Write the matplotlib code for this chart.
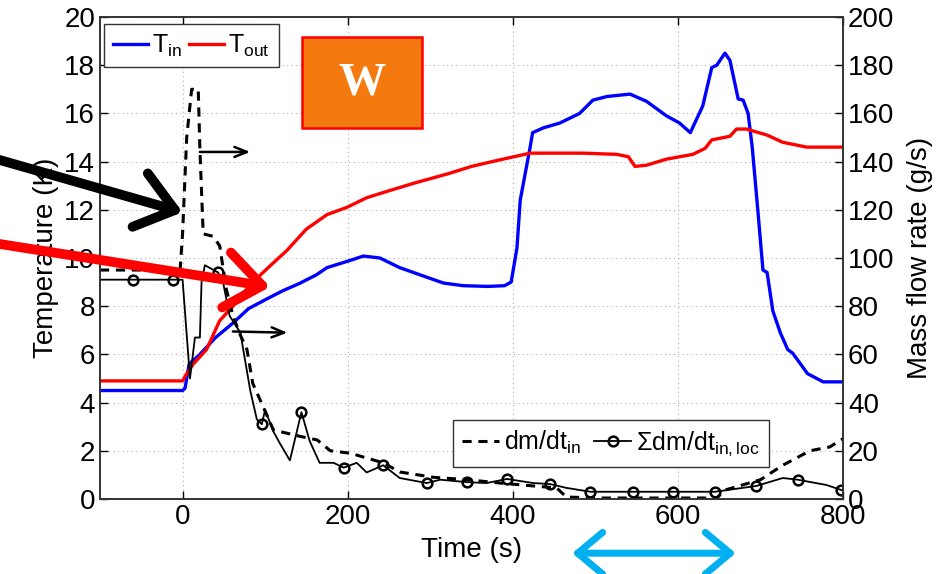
import matplotlib
matplotlib.use('Agg')
import matplotlib.pyplot as plt
from matplotlib.patches import Rectangle

plt.rcParams['font.family'] = ['Liberation Sans', 'DejaVu Sans']
plt.rcParams['mathtext.fontset'] = 'custom'
plt.rcParams['mathtext.rm'] = 'Liberation Sans'
plt.rcParams['mathtext.it'] = 'Liberation Sans:italic'

# temperatures (K)
t_in = [-100, 0, 3, 8, 21, 40, 61, 80, 102, 122, 142, 162, 175, 203, 219, 239, 263,
        296, 316, 340, 370, 390, 398, 405, 409, 415, 421, 424, 437, 457, 481, 497,
        514, 542, 562, 586, 602, 615, 630, 641, 647, 657, 663, 673, 679, 685, 690,
        697, 703, 708, 715, 724, 733, 739, 757, 776, 800]
T_in = [4.5, 4.5, 4.6, 5.6, 6.0, 6.7, 7.3, 7.9, 8.3, 8.65, 8.95, 9.3, 9.6, 9.9, 10.08,
        10.0, 9.6, 9.2, 8.96, 8.85, 8.82, 8.85, 9.0, 10.4, 12.4, 13.5, 14.6, 15.2,
        15.4, 15.6, 16.0, 16.55, 16.7, 16.8, 16.5, 15.9, 15.6, 15.2, 16.3, 17.9,
        18.0, 18.5, 18.2, 16.6, 16.55, 16.0, 14.6, 11.9, 9.5, 9.4, 7.8, 6.9, 6.2,
        6.05, 5.2, 4.86, 4.86]

t_out = [-100, 0, 5, 13, 29, 45, 61, 70, 85, 110, 126, 150, 175, 199, 223, 251, 280,
         322, 350, 384, 421, 485, 526, 540, 548, 562, 586, 618, 633, 641, 663, 671,
         683, 708, 727, 756, 800]
T_out = [4.9, 4.9, 5.2, 5.6, 6.2, 7.4, 8.0, 8.4, 9.0, 9.8, 10.3, 11.2, 11.8, 12.1,
         12.5, 12.8, 13.1, 13.5, 13.8, 14.07, 14.35, 14.35, 14.3, 14.2, 13.8, 13.85,
         14.1, 14.3, 14.55, 14.9, 15.05, 15.35, 15.35, 15.1, 14.8, 14.6, 14.6]

# mass flow rates (g/s)
t_dm = [-100, -3, 0, 5, 11, 19, 21, 25, 37, 45, 53, 61, 70, 78, 85, 98, 110, 130,
        142, 163, 179, 203, 223, 243, 263, 304, 345, 385, 425, 453, 465, 506, 600,
        647, 657, 700, 727, 760, 784, 800]
dm_in = [95, 95, 110, 150, 170, 170, 145, 110, 109, 105, 87, 76, 68, 62, 48, 38, 28.6,
         27, 26, 24.5, 20, 19, 17, 15, 11.2, 9, 8, 6.6, 5.4, 4.6, 0.8, 0.4, 0.4, 0.4,
         3.7, 8, 14, 20, 21.6, 25]

t_sum = [-100, -60, -11, 0, 9, 15, 21, 23, 27, 43, 49, 57, 70, 82, 90, 96, 100, 110,
         118, 130, 144, 154, 166, 183, 195, 211, 223, 243, 263, 296, 312, 344, 368,
         393, 425, 445, 465, 494, 546, 594, 645, 695, 727, 745, 780, 798, 800]
dm_sum = [91, 91, 91, 91, 50, 67, 67, 90, 97, 94, 90, 76, 69, 45, 33, 31, 37, 28, 23,
          16, 36, 24, 15, 15, 13, 15, 11, 14, 8.7, 6.6, 8, 7, 6.6, 8.3, 6.6, 6.2, 4.6,
          3, 3, 3, 3, 5.4, 8.7, 8, 5.8, 3.7, 3.5]
sum_marks = [-60, -11, 43, 96, 144, 195, 243, 296, 344, 393, 445, 494, 546, 594, 645,
             695, 745, 798]

fig = plt.figure(figsize=(9.39, 5.74), dpi=100)
ax = fig.add_axes([0.1065, 0.1307, 0.7913, 0.8397])
ax2 = ax.twinx()

l_in, = ax.plot(t_in, T_in, color='#0000ff', lw=2.4)
l_out, = ax.plot(t_out, T_out, color='#ff0000', lw=2.4)
ax.set_xlim(-100, 800)
ax.set_ylim(0, 20)
ax.set_xticks([0, 200, 400, 600, 800])
ax.set_yticks(range(0, 21, 2))
ax.grid(True, linestyle=(0, (1, 3)), color='#b0b0b0', lw=0.8)
ax.tick_params(direction='in', top=True, labelsize=20, length=6, width=1)
ax.set_xlabel('Time (s)', fontsize=20, labelpad=5)
ax.set_ylabel('Temperature (K)', fontsize=20, labelpad=4)

marks = [i for i, t in enumerate(t_sum) if t in sum_marks]
l_dm, = ax2.plot(t_dm, dm_in, color='k', lw=2.2, ls=(0, (3, 2.2)))
l_sum, = ax2.plot(t_sum, dm_sum, color='k', lw=1.3, marker='o', ms=7, mfc='none',
                  mew=1.8, markevery=marks)
ax2.set_ylim(0, 200)
ax2.set_yticks(range(0, 201, 20))
ax2.tick_params(direction='in', labelsize=20, length=6, width=1)
ax2.set_ylabel('Mass flow rate (g/s)', fontsize=20, labelpad=9)

for a in (ax, ax2):
    for s in a.spines.values():
        s.set_color('#333333')
        s.set_linewidth(1.2)

leg1 = ax2.legend([l_in, l_out], [r'T$_{\rm in}$', r'T$_{\rm out}$'], ncol=2,
                  loc='upper left', bbox_to_anchor=(0.006, 0.986), fontsize=18,
                  fancybox=False, edgecolor='#333333', framealpha=1,
                  handlelength=1.4, handletextpad=0.15, columnspacing=0.3,
                  borderpad=0.35, borderaxespad=0)
leg1.get_frame().set_linewidth(1)
ax2.add_artist(leg1)
leg2 = ax2.legend([l_dm, l_sum], [r'dm/dt$_{\rm in}$', r'$\Sigma$dm/dt$_{\rm in,loc}$'],
                  ncol=2, loc='lower right', bbox_to_anchor=(0.9, 0.066), fontsize=18,
                  fancybox=False, edgecolor='#333333', framealpha=1,
                  handlelength=1.5, handletextpad=0.2, columnspacing=0.5,
                  borderpad=0.35, borderaxespad=0)
leg2.get_frame().set_linewidth(1)

# orange "W" box
ax2.add_patch(Rectangle((145, 15.4), 145, 3.75, transform=ax.transData,
                        facecolor='#f47a10', edgecolor='#ff0000', lw=1.8, zorder=5))
ax2.text(217.5, 17.25, 'W', transform=ax.transData, ha='center', va='center',
         fontsize=34, fontweight='bold', color='white', family='Liberation Serif',
         zorder=6)

# annotation arrows
ax2.annotate('', xy=(0, 11.9), xytext=(-225, 14.1), xycoords=ax.transData,
             textcoords=ax.transData, annotation_clip=False, zorder=7,
             arrowprops=dict(arrowstyle='->,head_length=0.65,head_width=0.5',
                             lw=7, color='k', mutation_scale=40, shrinkA=0, shrinkB=0))
ax2.annotate('', xy=(106, 8.8), xytext=(-225, 10.6), xycoords=ax.transData,
             textcoords=ax.transData, annotation_clip=False, zorder=7,
             arrowprops=dict(arrowstyle='->,head_length=0.65,head_width=0.5',
                             lw=7, color='#ff0000', mutation_scale=40, shrinkA=0,
                             shrinkB=0))
ax2.annotate('', xy=(82, 14.4), xytext=(21, 14.4), xycoords=ax.transData,
             textcoords=ax.transData, zorder=7,
             arrowprops=dict(arrowstyle='->,head_length=0.5,head_width=0.2',
                             lw=1.8, color='k', mutation_scale=18, shrinkA=0, shrinkB=0))
ax2.annotate('', xy=(127, 6.9), xytext=(61, 6.95), xycoords=ax.transData,
             textcoords=ax.transData, zorder=7,
             arrowprops=dict(arrowstyle='->,head_length=0.5,head_width=0.2',
                             lw=1.8, color='k', mutation_scale=18, shrinkA=0, shrinkB=0))
ax2.annotate('', xy=(670, -2.25), xytext=(472, -2.25), xycoords=ax.transData,
             textcoords=ax.transData, annotation_clip=False, zorder=7,
             arrowprops=dict(arrowstyle='<->,head_length=0.6,head_width=0.5',
                             lw=5, color='#00b0f0', mutation_scale=30, shrinkA=0,
                             shrinkB=0))

fig.savefig('out.png', dpi=100)
